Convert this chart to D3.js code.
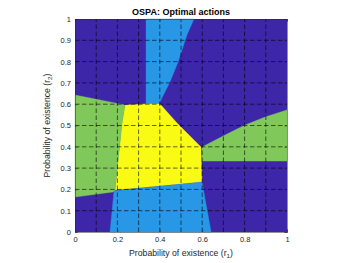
<!DOCTYPE html>
<html>
<head>
<meta charset="utf-8">
<script src="https://cdn.jsdelivr.net/npm/d3@7"></script>
<style>
  body { margin: 0; background: #fff; }
  svg { display: block; font-family: "Liberation Sans", Arial, sans-serif; }
  .axis text { fill: #262626; font-size: 7.5px; }
  .axis path, .axis line { stroke: #262626; stroke-width: 0.5; }
</style>
</head>
<body>
<div id="vis_container"></div>
<script>
// tick values on both axes
var xTicks = [0, 0.2, 0.4, 0.6, 0.8, 1];
var yTicks = [0, 0.1, 0.2, 0.3, 0.4, 0.5, 0.6, 0.7, 0.8, 0.9, 1];
var gridVals = [0.1, 0.2, 0.3, 0.4, 0.5, 0.6, 0.7, 0.8, 0.9];

// action regions, vertices as [r1, r2]
var region_lightblue_top = [[0.335, 1], [0.561, 1], [0.528, 0.925], [0.486, 0.798], [0.448, 0.704],
    [0.410, 0.629], [0.396, 0.601], [0.335, 0.601]];
var region_yellow = [[0.236, 0.596], [0.335, 0.601], [0.401, 0.601], [0.481, 0.512], [0.594, 0.399],
    [0.599, 0.235], [0.189, 0.197], [0.222, 0.512]];
var region_green_left = [[0, 0.643], [0.118, 0.620], [0.236, 0.596], [0.222, 0.512], [0.189, 0.197],
    [0.179, 0.188], [0, 0.164]];
var region_lightblue_bottom = [[0.184, 0.192], [0.599, 0.235], [0.642, 0], [0.165, 0]];
var region_green_right = [[0.599, 0.399], [0.708, 0.455], [0.802, 0.502], [0.9, 0.541], [1, 0.573],
    [1, 0.333], [0.599, 0.333]];

var regions = [
    {pts: region_lightblue_top, action: 2},
    {pts: region_yellow, action: 4},
    {pts: region_green_left, action: 3},
    {pts: region_lightblue_bottom, action: 2},
    {pts: region_green_right, action: 3}
];

var action_color = {1: "#3e26a8", 2: "#2797e6", 3: "#80c85a", 4: "#f9fb15"};

var width = 350, height = 263;
var x = d3.scaleLinear().domain([0, 1]).range([75, 287]);
var y = d3.scaleLinear().domain([0, 1]).range([232, 19]);

var svg = d3.select("#vis_container").append("svg")
    .attr("width", width)
    .attr("height", height);

// background = action 1
svg.append("rect")
    .attr("x", x(0)).attr("y", y(1))
    .attr("width", x(1) - x(0)).attr("height", y(0) - y(1))
    .style("fill", action_color[1]);

var line = d3.line().x(function(d) { return x(d[0]); }).y(function(d) { return y(d[1]); });

svg.selectAll(".region").data(regions).enter().append("path")
    .attr("class", "region")
    .attr("d", function(d) { return line(d.pts) + "Z"; })
    .style("fill", function(d) { return action_color[d.action]; })
    .style("stroke", function(d) { return action_color[d.action]; })
    .style("stroke-width", 0.4);

// dashed grid
svg.selectAll(".vgrid").data(gridVals).enter().append("line")
    .attr("x1", function(d) { return x(d); }).attr("x2", function(d) { return x(d); })
    .attr("y1", y(0)).attr("y2", y(1))
    .style("stroke", "#000").style("stroke-opacity", 0.75)
    .style("stroke-width", 0.8).style("stroke-dasharray", "4.5,2.5");
svg.selectAll(".hgrid").data(gridVals).enter().append("line")
    .attr("y1", function(d) { return y(d); }).attr("y2", function(d) { return y(d); })
    .attr("x1", x(0)).attr("x2", x(1))
    .style("stroke", "#000").style("stroke-opacity", 0.75)
    .style("stroke-width", 0.8).style("stroke-dasharray", "4.5,2.5");

// axes
svg.append("g").attr("class", "axis")
    .attr("transform", "translate(0," + y(0) + ")")
    .call(d3.axisBottom(x).tickValues(xTicks).tickSize(-2.5).tickPadding(5).tickFormat(d3.format("")));
svg.append("g").attr("class", "axis")
    .attr("transform", "translate(" + x(0) + ",0)")
    .call(d3.axisLeft(y).tickValues(yTicks).tickSize(-2.5).tickPadding(4).tickFormat(d3.format("")));
svg.append("g").attr("class", "axis")
    .attr("transform", "translate(0," + y(1) + ")")
    .call(d3.axisTop(x).tickValues(xTicks).tickSize(-2.5).tickFormat(""));
svg.append("g").attr("class", "axis")
    .attr("transform", "translate(" + x(1) + ",0)")
    .call(d3.axisRight(y).tickValues(yTicks).tickSize(-2.5).tickFormat(""));

// title and labels
svg.append("text")
    .attr("x", (x(0) + x(1)) / 2).attr("y", 15)
    .style("text-anchor", "middle").style("font-size", "9px").style("font-weight", "bold")
    .style("fill", "#000")
    .text("OSPA: Optimal actions");

var xl = svg.append("text")
    .attr("x", (x(0) + x(1)) / 2).attr("y", 256)
    .style("text-anchor", "middle").style("font-size", "8.7px").style("fill", "#262626")
    .text("Probability of existence (r");
xl.append("tspan").attr("dy", 2.2).style("font-size", "6.2px").text("1");
xl.append("tspan").attr("dy", -2.2).text(")");

var yl = svg.append("text")
    .attr("transform", "translate(50," + ((y(0) + y(1)) / 2) + ") rotate(-90)")
    .style("text-anchor", "middle").style("font-size", "8.7px").style("fill", "#262626")
    .text("Probability of existence (r");
yl.append("tspan").attr("dy", 2.2).style("font-size", "6.2px").text("2");
yl.append("tspan").attr("dy", -2.2).text(")");
</script>
</body>
</html>
